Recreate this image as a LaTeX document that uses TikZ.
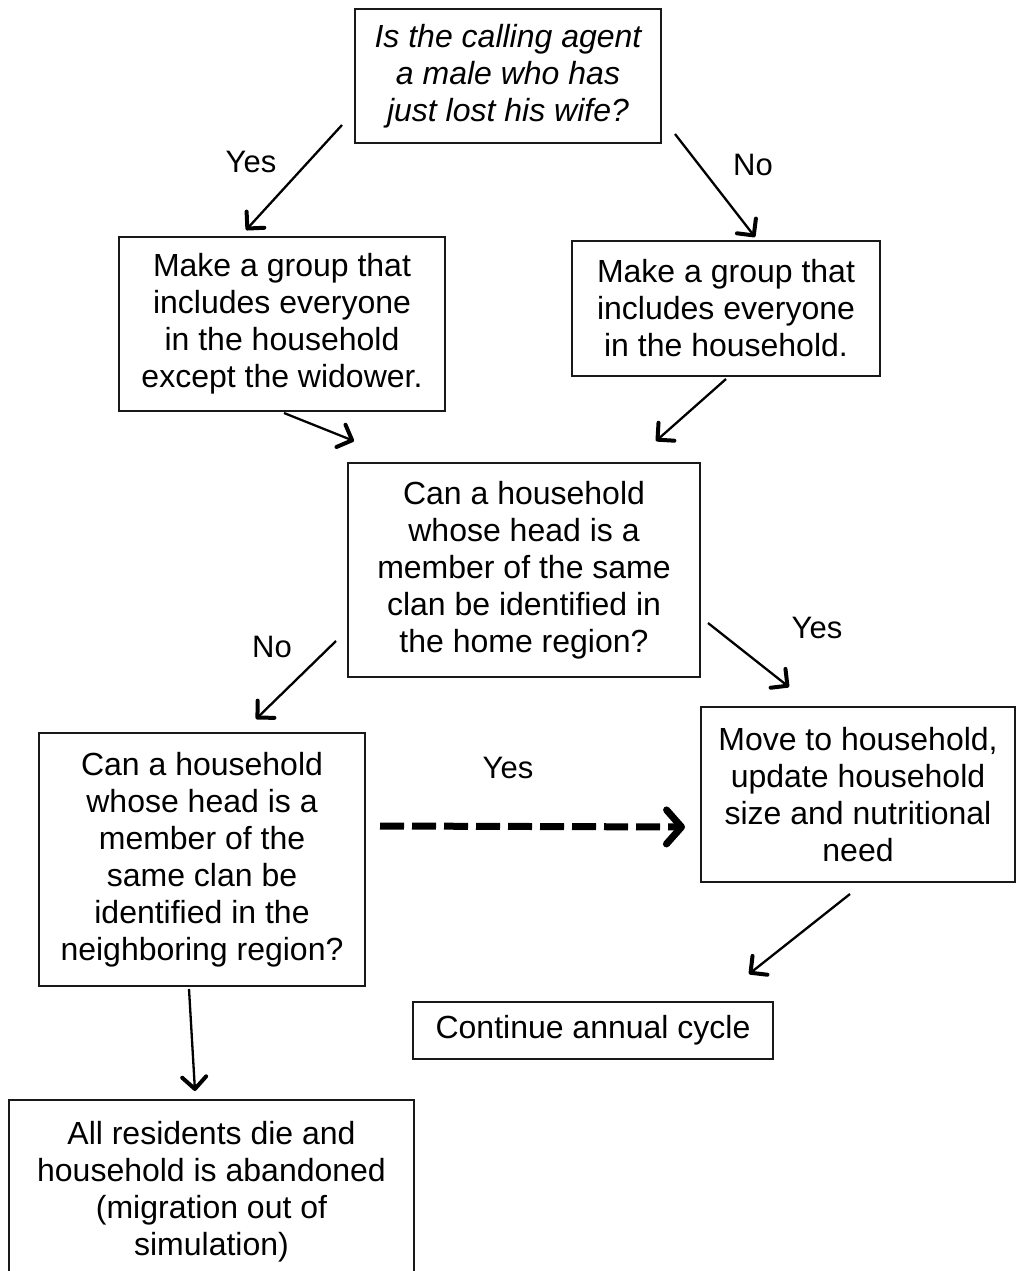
\documentclass[tikz,border=0pt]{standalone}
\usepackage{fontspec}
\setmainfont{Liberation Sans}
\usetikzlibrary{arrows.meta,calc}
\begin{document}
\begin{tikzpicture}[x=1pt,y=-1pt,
  box/.style={draw=black!90, line width=2pt, align=center, inner sep=0pt, font=\fontsize{32}{37}\selectfont},
  lbl/.style={font=\fontsize{31}{37}\selectfont, inner sep=0pt},
  arr/.style={line width=2.3pt, -{Straight Barb[length=12pt,width=24pt,line width=4pt,round]}},
  darr/.style={line width=7pt, dash pattern=on 24pt off 8pt, -{Straight Barb[length=15pt,width=34pt,line width=7pt,round]}},
]
\useasboundingbox (0,0) rectangle (1018,1271);
\clip (0,0) rectangle (1018,1271);
\fill[white] (0,0) rectangle (1018,1271);

\node[box, minimum width=306pt, minimum height=134pt, font=\fontsize{32}{37}\selectfont\itshape] (q1) at (508,76)
  {Is the calling agent\\a male who has\\just lost his wife?};
\node[box, minimum width=326pt, minimum height=174pt] (b2) at (282,324)
  {Make a group that\\includes everyone\\in the household\\except the widower.};
\node[box, minimum width=308pt, minimum height=135pt] (b3) at (726,308.5)
  {Make a group that\\includes everyone\\in the household.};
\node[box, minimum width=352pt, minimum height=214pt] (q2) at (524,570)
  {Can a household\\whose head is a\\member of the same\\clan be identified in\\the home region?};
\node[box, minimum width=326pt, minimum height=253pt] (q3) at (202,859.5)
  {Can a household\\whose head is a\\member of the\\same clan be\\identified in the\\neighboring region?};
\node[box, minimum width=314pt, minimum height=175pt] (mv) at (858,794.5)
  {Move to household,\\update household\\size and nutritional\\need};
\node[box, minimum width=360pt, minimum height=57pt] (cont) at (593,1030.5)
  {Continue annual cycle};
\node[box, minimum width=405pt, minimum height=184pt] (die) at (211.5,1192)
  {All residents die and\\household is abandoned\\(migration out of\\simulation)};

\node[lbl] (l1) at (251,162) {Yes};
\node[lbl] (l2) at (753,165) {No};
\node[lbl] (l3) at (272,647) {No};
\node[lbl] (l4) at (817,628) {Yes};
\node[lbl] (l5) at (508,768) {Yes};

\draw[arr] ([shift={(-12,-19)}]q1.south west) -- ([shift={(128,-6)}]b2.north west);
\draw[arr] ([shift={(13,-10)}]q1.south east) -- ([shift={(184,-3)}]b3.north west);
\draw[arr] ([shift={(166,1)}]b2.south west) -- ([shift={(7,-21)}]q2.north west);
\draw[arr] ([shift={(0,2)}]b3.south) -- ([shift={(-45,-21)}]q2.north east);
\draw[arr] ([shift={(-11,-37)}]q2.south west) -- ([shift={(218,-13)}]q3.north west);
\draw[arr] ([shift={(7,-55)}]q2.south east) -- ([shift={(89,-19)}]mv.north west);
\draw[darr] ([shift={(14,94)}]q3.north east) -- ([shift={(-15,32.5)}]mv.west);
\draw[arr] ([shift={(-8,11)}]mv.south) -- ([shift={(-25,-27)}]cont.north east);
\draw[arr] ([shift={(-13,2)}]q3.south) -- ([shift={(-16.5,-8)}]die.north);
\end{tikzpicture}
\end{document}
